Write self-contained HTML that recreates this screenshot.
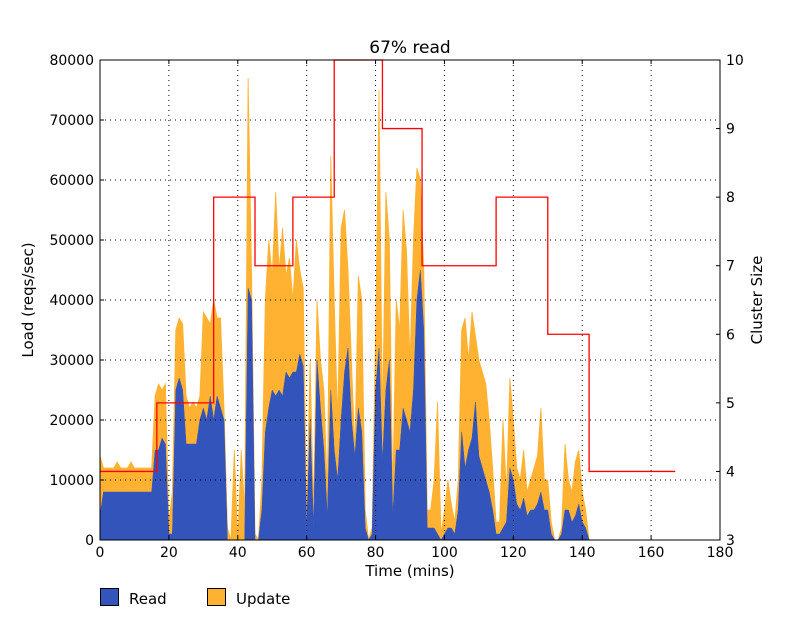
<!DOCTYPE html>
<html><head><meta charset="utf-8"><style>
body{margin:0;background:#fff;}
svg text{font-family:"DejaVu Sans","Liberation Sans",sans-serif;}
</style></head><body>
<svg id="chart" width="800" height="615" xmlns="http://www.w3.org/2000/svg">
<text x="410" y="53" font-size="17" text-anchor="middle">67% read</text>
<g id="plot"></g>
<text x="410" y="576" font-size="15" text-anchor="middle">Time (mins)</text>
<text transform="translate(33,300) rotate(-90)" font-size="15" text-anchor="middle">Load (reqs/sec)</text>
<text transform="translate(762,300) rotate(-90)" font-size="15" text-anchor="middle">Cluster Size</text>
<g>
<rect x="100.5" y="588.5" width="18" height="17" fill="#3355bb" stroke="#000"/>
<text x="129" y="604" font-size="15">Read</text>
<rect x="207.5" y="588.5" width="18" height="17" fill="#ffb232" stroke="#000"/>
<text x="236" y="604" font-size="15">Update</text>
</g>
</svg>
<script>
const total=[14,12,12,12,12,13,12,12,12,13,12,12,12,12,12,12,24,26,25,26,3,8,35,37,36,24,22,23,22,24,38,37,36,40,37,37,22,2,0,15,0,15,5,77,45,1,0,10,40,50,44,58,45,52,44,47,40,50,45,42,5,30,5,40,30,25,8,64,40,20,52,55,45,30,15,44,40,5,0,2,35,75,20,58,50,8,40,35,55,48,30,50,62,60,45,5,5,10,23,1,5,10,6,3,10,35,37,30,38,34,30,28,26,20,12,3,3,20,8,27,20,12,10,15,8,10,12,14,22,10,10,3,0,0,2,16,10,8,13,15,8,5,0,0,0,0,0,0,0,0,0,0,0,0,0,0,0,0,0,0,0,0,0,0,0,0,0,0];
const read=[4,8,8,8,8,8,8,8,8,8,8,8,8,8,8,8,15,15,17,16,1,1,25,27,25,16,16,16,16,20,22,20,24,20,24,22,20,0,0,0,0,0,0,42,40,0,0,5,18,22,25,24,25,24,28,27,28,28,31,29,2,20,2,30,22,15,4,25,15,10,20,28,32,20,14,22,18,2,0,1,25,32,13,25,30,4,15,15,22,20,18,25,40,45,35,2,2,2,1,0,1,2,2,1,5,18,12,15,17,23,14,12,10,8,5,1,1,2,3,12,10,6,5,7,4,5,5,6,8,5,5,1,0,0,1,5,5,3,4,6,3,2,0,0,0,0,0,0,0,0,0,0,0,0,0,0,0,0,0,0,0,0,0,0,0,0,0,0];
const stepTimes=[0,16.5,33,45,56,68,82,93.5,115,130,142,167];
const stepSizes=[4,5,8,7,8,10,9,7,8,6,4];
const xTicks=[0,20,40,60,80,100,120,140,160,180];
const yTicks=[0,10000,20000,30000,40000,50000,60000,70000,80000];
const y2Ticks=[3,4,5,6,7,8,9,10];
const NS="http://www.w3.org/2000/svg";
const X=t=>100+t*620/180, Y=v=>540-v*480/80000, Y2=s=>540-(s-3)*480/7;
const g=document.getElementById('plot');
function mk(tag,a){const e=document.createElementNS(NS,tag);for(const k in a)e.setAttribute(k,a[k]);g.appendChild(e);return e;}
// areas
let pu=[],pr=[];
for(let i=0;i<total.length;i++){pu.push(X(i)+','+Y(total[i]*1000));pr.push(X(i)+','+Y(read[i]*1000));}
const last=total.length-1;
const up=mk('polygon',{points:X(0)+','+Y(0)+' '+pu.join(' ')+' '+X(last)+','+Y(0),fill:'#ffb232',stroke:'#ffb232','stroke-width':'0.8'});

const rd=mk('polygon',{points:X(0)+','+Y(0)+' '+pr.join(' ')+' '+X(last)+','+Y(0),fill:'#3355bb',stroke:'#3355bb','stroke-width':'0.5'});

// grid
xTicks.forEach(t=>{if(t>0&&t<180){const l=mk('line',{x1:X(t),x2:X(t),y1:60,y2:540,stroke:'#000','stroke-dasharray':'1,4','stroke-width':'1'});}});
yTicks.forEach(v=>{if(v>0&&v<80000){const l=mk('line',{x1:100,x2:720,y1:Y(v),y2:Y(v),stroke:'#000','stroke-dasharray':'1,4','stroke-width':'1'});}});
// step line
let sp=[];
for(let i=0;i<stepSizes.length;i++){sp.push(X(stepTimes[i])+','+Y2(stepSizes[i]));sp.push(X(stepTimes[i+1])+','+Y2(stepSizes[i]));}
const sl=mk('polyline',{points:sp.join(' '),fill:'none',stroke:'#ff0000','stroke-width':'1.3'});

// frame
const fr=mk('rect',{x:100,y:60,width:620,height:480,fill:'none',stroke:'#000','stroke-width':'1'});

// ticks & labels
xTicks.forEach(t=>{
 mk('line',{x1:X(t),x2:X(t),y1:540,y2:536,stroke:'#000'});mk('line',{x1:X(t),x2:X(t),y1:60,y2:64,stroke:'#000'});
 const tx=mk('text',{x:X(t),y:557,'font-size':'14','text-anchor':'middle'});tx.textContent=t;
 
});
yTicks.forEach(v=>{
 mk('line',{x1:100,x2:104,y1:Y(v),y2:Y(v),stroke:'#000'});
 const tx=mk('text',{x:94,y:Y(v)+5,'font-size':'14','text-anchor':'end'});tx.textContent=v;
 
});
y2Ticks.forEach(s=>{
 mk('line',{x1:716,x2:720,y1:Y2(s),y2:Y2(s),stroke:'#000'});
 const tx=mk('text',{x:726,y:Y2(s)+5,'font-size':'14'});tx.textContent=s;
 
});
</script>
</body></html>
